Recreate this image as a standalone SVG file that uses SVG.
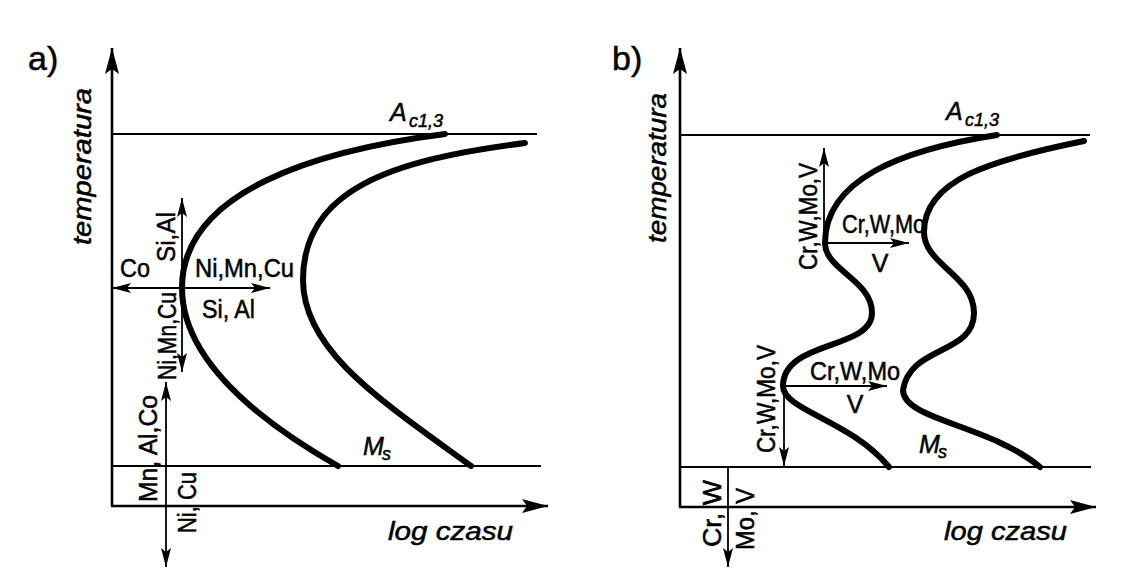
<svg xmlns="http://www.w3.org/2000/svg" width="1129" height="572" viewBox="0 0 1129 572">
<style>
text{font-family:"Liberation Sans",Arial,sans-serif;font-size:25px;fill:#000;stroke:#000;stroke-width:0.5}
.it{font-style:italic}
.sub{font-size:18px;font-style:italic}
.big{font-size:34px}
.ax{stroke:#000;stroke-width:2.6;fill:none}
.ln{stroke:#000;stroke-width:2;fill:none}
.ar{stroke:#000;stroke-width:1.8;fill:none}
.cv{stroke:#000;stroke-width:6;fill:none;stroke-linecap:round}
</style>
<defs>
<marker id="bigArrow" viewBox="-27 -8 28 16" refX="0" refY="0" markerWidth="28" markerHeight="16" markerUnits="userSpaceOnUse" orient="auto">
<path d="M0,0 L-26,-7 L-21,0 L-26,7 Z" fill="#000"/>
</marker>
<marker id="smallArrow" viewBox="-20 -6 21 12" refX="0" refY="0" markerWidth="21" markerHeight="12" markerUnits="userSpaceOnUse" orient="auto">
<path d="M0,0 L-19,-5 L-15,0 L-19,5 Z" fill="#000"/>
</marker>
</defs>
<rect width="1129" height="572" fill="#fff"/>

<!-- Panel a -->
<g id="panel-a-frame">
<text class="big" x="28" y="70">a)</text>
<line class="ax" x1="112" y1="506" x2="112" y2="48" marker-end="url(#bigArrow)"/>
<line class="ax" x1="111" y1="506" x2="548" y2="506" marker-end="url(#bigArrow)"/>
<line class="ln" x1="112" y1="134" x2="537" y2="134"/>
<line class="ln" x1="112" y1="466" x2="541" y2="466"/>
<text class="it" transform="translate(91,245) rotate(-90)" textLength="157" lengthAdjust="spacingAndGlyphs">temperatura</text>
<text class="it" x="390" y="121">A</text><text class="sub" x="409" y="127">c1,3</text>
<text class="it" x="363" y="455">M</text><text class="sub" x="382" y="460">s</text>
<text class="it" x="388" y="540" textLength="125" lengthAdjust="spacingAndGlyphs">log czasu</text>
</g>
<g id="panel-a-curves">
<path class="cv" d="M445,134 C320,150 182,190 182,288 C182,350 240,410 338,466"/>
<path class="cv" d="M525,143 C390,160 303,190 303,280 C303,350 380,400 471,466"/>
</g>
<g id="panel-a-connectors">
<line class="ar" x1="182" y1="288" x2="112" y2="288" marker-end="url(#smallArrow)"/>
<line class="ar" x1="182" y1="288" x2="270" y2="288" marker-end="url(#smallArrow)"/>
<line class="ar" x1="182" y1="288" x2="182" y2="198" marker-end="url(#smallArrow)"/>
<line class="ar" x1="182" y1="288" x2="182" y2="372" marker-end="url(#smallArrow)"/>
<line class="ar" x1="166" y1="470" x2="166" y2="382" marker-end="url(#smallArrow)"/>
<line class="ar" x1="166" y1="470" x2="166" y2="567" marker-end="url(#smallArrow)"/>
</g>
<g id="panel-a-labels">
<text x="120" y="277" textLength="30" lengthAdjust="spacingAndGlyphs">Co</text>
<text x="195" y="277" textLength="99" lengthAdjust="spacingAndGlyphs">Ni,Mn,Cu</text>
<text x="202" y="318" textLength="53" lengthAdjust="spacingAndGlyphs">Si, Al</text>
<text transform="translate(175,262) rotate(-90)" textLength="50" lengthAdjust="spacingAndGlyphs">Si,Al</text>
<text transform="translate(176,380) rotate(-90)" textLength="88" lengthAdjust="spacingAndGlyphs">Ni,Mn,Cu</text>
<text transform="translate(157,502) rotate(-90)" textLength="107" lengthAdjust="spacingAndGlyphs">Mn, Al,Co</text>
<text transform="translate(196,533) rotate(-90)" textLength="61" lengthAdjust="spacingAndGlyphs">Ni, Cu</text>
</g>

<!-- Panel b -->
<g id="panel-b-frame">
<text class="big" x="612" y="70">b)</text>
<line class="ax" x1="680" y1="507" x2="680" y2="48" marker-end="url(#bigArrow)"/>
<line class="ax" x1="679" y1="507" x2="1096" y2="507" marker-end="url(#bigArrow)"/>
<line class="ln" x1="680" y1="135" x2="1090" y2="135"/>
<line class="ln" x1="680" y1="467" x2="1091" y2="467"/>
<text class="it" transform="translate(666,243) rotate(-90)" textLength="150" lengthAdjust="spacingAndGlyphs">temperatura</text>
<text class="it" x="946" y="120">A</text><text class="sub" x="965" y="126">c1,3</text>
<text class="it" x="919" y="453">M</text><text class="sub" x="938" y="458">s</text>
<text class="it" x="944" y="540" textLength="123" lengthAdjust="spacingAndGlyphs">log czasu</text>
</g>
<g id="panel-b-curves">
<path class="cv" d="M997,135 C900,150 825,180 825,243 C825,270 872,280 872,313 C872,350 783,340 783,386 C783,410 850,420 889,467"/>
<path class="cv" d="M1084,141 C990,160 924,180 924,232 C924,265 974,275 974,313 C974,355 910,345 903,390 C903,420 990,425 1040,467"/>
</g>
<g id="panel-b-connectors">
<line class="ar" x1="824" y1="243" x2="824" y2="148" marker-end="url(#smallArrow)"/>
<line class="ar" x1="824" y1="243" x2="909" y2="243" marker-end="url(#smallArrow)"/>
<line class="ar" x1="784" y1="386" x2="784" y2="466" marker-end="url(#smallArrow)"/>
<line class="ar" x1="784" y1="386" x2="887" y2="386" marker-end="url(#smallArrow)"/>
<line class="ar" x1="728" y1="467" x2="728" y2="567" marker-end="url(#smallArrow)"/>
</g>
<g id="panel-b-labels">
<text x="842" y="233" textLength="83" lengthAdjust="spacingAndGlyphs">Cr,W,Mo</text>
<text x="880" y="272" text-anchor="middle">V</text>
<text transform="translate(817,270) rotate(-90)" textLength="107" lengthAdjust="spacingAndGlyphs">Cr,W,Mo,V</text>
<text x="810" y="380" textLength="90" lengthAdjust="spacingAndGlyphs">Cr,W,Mo</text>
<text x="855" y="413" text-anchor="middle">V</text>
<text transform="translate(775,453) rotate(-90)" textLength="108" lengthAdjust="spacingAndGlyphs">Cr,W,Mo,V</text>
<text transform="translate(721,547) rotate(-90)" textLength="67" lengthAdjust="spacingAndGlyphs">Cr, W</text>
<text transform="translate(754,550) rotate(-90)" textLength="62" lengthAdjust="spacingAndGlyphs">Mo, V</text>
</g>
</svg>
